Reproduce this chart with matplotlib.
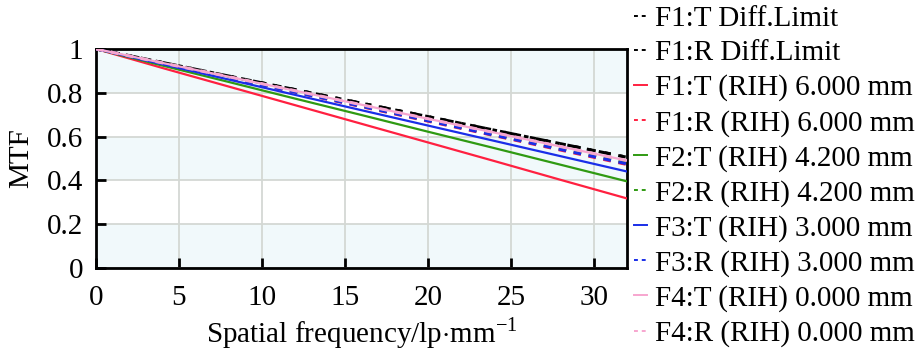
import matplotlib
matplotlib.use("Agg")
import matplotlib.pyplot as plt
from matplotlib.ticker import FormatStrFormatter

plt.rcParams['font.family'] = ['Liberation Serif', 'DejaVu Serif']
plt.rcParams['mathtext.fontset'] = 'custom'
plt.rcParams['mathtext.rm'] = 'Liberation Serif'

freq = [0, 4, 8, 12, 16, 20, 24, 28, 32]
f1t_diff = [1.0, 0.938, 0.876, 0.814, 0.752, 0.691, 0.629, 0.567, 0.505]
f1r_diff = [1.0, 0.938, 0.876, 0.814, 0.752, 0.691, 0.629, 0.567, 0.505]
f1t = [1.0, 0.913, 0.828, 0.743, 0.658, 0.573, 0.488, 0.402, 0.317]
f1r = [1.0, 0.934, 0.868, 0.802, 0.736, 0.670, 0.604, 0.538, 0.472]
f2t = [1.0, 0.924, 0.849, 0.773, 0.698, 0.622, 0.547, 0.471, 0.395]
f2r = [1.0, 0.935, 0.870, 0.805, 0.740, 0.675, 0.610, 0.545, 0.480]
f3t = [1.0, 0.930, 0.860, 0.790, 0.720, 0.650, 0.580, 0.510, 0.440]
f3r = [1.0, 0.934, 0.869, 0.803, 0.738, 0.672, 0.606, 0.541, 0.475]
f4t = [1.0, 0.936, 0.873, 0.809, 0.745, 0.681, 0.618, 0.554, 0.490]
f4r = [1.0, 0.936, 0.873, 0.809, 0.745, 0.681, 0.618, 0.554, 0.490]

labels = ["F1:T Diff.Limit", "F1:R Diff.Limit",
          "F1:T (RIH) 6.000 mm", "F1:R (RIH) 6.000 mm",
          "F2:T (RIH) 4.200 mm", "F2:R (RIH) 4.200 mm",
          "F3:T (RIH) 3.000 mm", "F3:R (RIH) 3.000 mm",
          "F4:T (RIH) 0.000 mm", "F4:R (RIH) 0.000 mm"]

fig = plt.figure(figsize=(9.21, 3.54), dpi=100)
ax = fig.add_axes([0.104, 0.243, 0.577, 0.619])

# alternating background bands
for lo in [0.0, 0.4, 0.8]:
    ax.axhspan(lo, lo + 0.2, color='#f1f9fb', zorder=0, lw=0)

red = '#ff2040'
green = '#2f9a12'
blue = '#1a2ee8'
pink = '#f7a6cf'

series = [
    (f1t_diff, 'black', (0, (2, 3)), 2.2),
    (f1r_diff, 'black', (0, (4, 2.5, 1.5, 2.5)), 2.2),
    (f1t, red, '-', 1.6),
    (f1r, red, (0, (2.5, 2.5)), 2.2),
    (f2t, green, '-', 1.6),
    (f2r, green, (0, (2.5, 2.5)), 2.2),
    (f3t, blue, '-', 1.6),
    (f3r, blue, (0, (2.5, 2.5)), 2.2),
    (f4t, pink, '-', 1.6),
    (f4r, pink, (0, (2.5, 2.5)), 2.2),
]
handles = []
for (vals, c, ls, lw), lab in zip(series, labels):
    h, = ax.plot(freq, vals, color=c, linestyle=ls, lw=lw, label=lab, zorder=3)
    handles.append(h)

ax.set_xlim(0, 32)
ax.set_ylim(0, 1)
ax.set_xticks([0, 5, 10, 15, 20, 25, 30])
ax.set_yticks([0, 0.2, 0.4, 0.6, 0.8, 1.0])
ax.yaxis.set_major_formatter(FormatStrFormatter('%g'))
ax.grid(True, color='#d4d8d4', lw=1.3, zorder=1)
ax.set_axisbelow(True)
for s in ax.spines.values():
    s.set_linewidth(2)
ax.tick_params(direction='in', length=7, width=2, labelsize=21)
ax.tick_params(axis='x', pad=12)
ax.tick_params(axis='y', pad=9)
ax.set_xlabel('Spatial frequency/lp$\\cdot$mm$^{-1}$', fontsize=21, labelpad=3)
ax.set_ylabel('MTF', fontsize=21, labelpad=9)

legend_handles = []
for (vals, c, ls, lw) in series:
    lh, = ax.plot([], [], color=c, linestyle=ls if ls == '-' else (0, (2, 2)), lw=1.4)
    legend_handles.append(lh)

fig.legend(handles=legend_handles, labels=labels, loc='upper left',
           bbox_to_anchor=(0.676, 1.018), frameon=False, fontsize=21,
           handlelength=0.45, handletextpad=0.25, labelspacing=0.28,
           borderaxespad=0)

fig.savefig('out.png', dpi=100)
